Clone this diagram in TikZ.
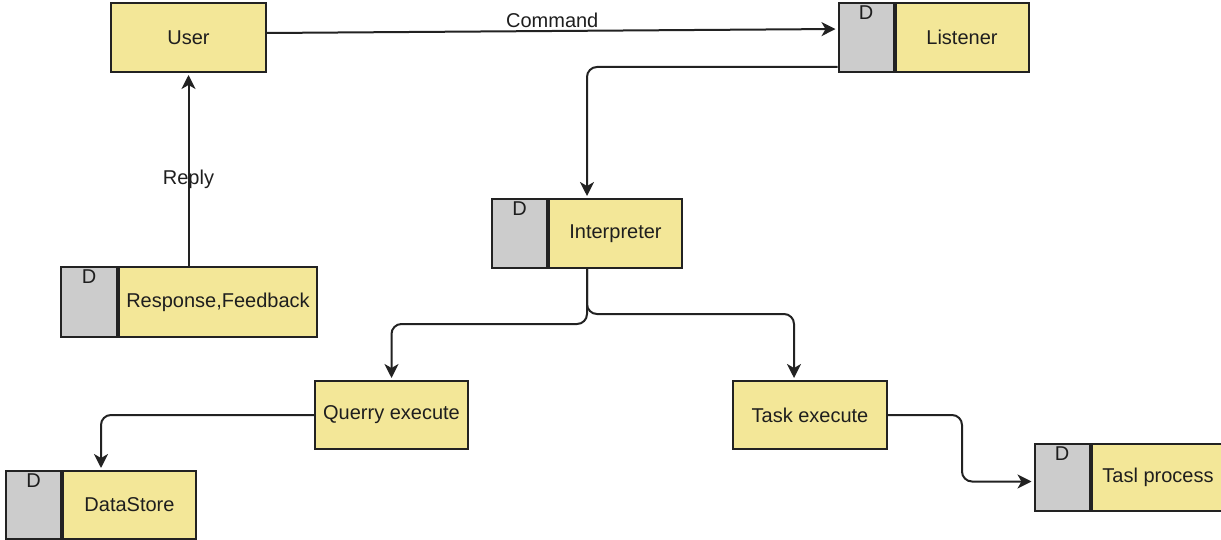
\documentclass[tikz,border=0pt]{standalone}
\usepackage{fontspec}
\setmainfont{Liberation Sans}
\usepackage{xcolor}
\usetikzlibrary{arrows, arrows.meta, positioning, calc}

\definecolor{boxyellow}{RGB}{243,231,152}
\definecolor{boxgray}{RGB}{204,204,204}
\definecolor{edgeline}{RGB}{34,34,34}
\definecolor{txt}{RGB}{30,30,30}

\tikzset{
  proc/.style={draw=edgeline, line width=2pt, fill=boxyellow, text=txt,
    minimum height=69pt, inner sep=0pt, font=\fontsize{20}{24}\selectfont},
  dpart/.style={proc, fill=boxgray, minimum width=55pt,
    label={[anchor=north, inner sep=4pt, text=txt, font=\fontsize{20}{24}\selectfont]north:D}},
  flow/.style={draw=edgeline, line width=2pt, rounded corners=10pt,
    -{Stealth[length=14pt, width=14pt, inset=4pt]}, shorten >=2pt},
}

\begin{document}
\begin{tikzpicture}[x=1pt, y=-1pt]
%\draw[step=50,gray,very thin] (0,0) grid (1221,540); %background grid
\useasboundingbox (0,0) rectangle (1221,540);

\node[proc, minimum width=155pt] (user) at (188.5,37.5) {User};

\node[dpart] (lisD) at (866,37.5) {};
\node[proc, minimum width=133pt, right=0pt of lisD] (lis) {Listener};

\node[dpart] (intD) at (519.5,233.5) {};
\node[proc, minimum width=133pt, right=0pt of intD] (int) {Interpreter};

\node[dpart, minimum width=56pt, minimum height=70pt] (resD) at (89,302) {};
\node[proc, minimum width=198pt, minimum height=70pt, right=0pt of resD] (res) {Response,Feedback};

\node[proc, minimum width=153pt, minimum height=68pt] (query) at (391.5,415) {Querry execute};
\node[proc, minimum width=154pt, minimum height=68pt] (task) at (810,415) {Task execute};

\node[dpart, minimum height=68pt] (dsD) at (33.5,505) {};
\node[proc, minimum width=133pt, minimum height=68pt, right=0pt of dsD] (ds) {DataStore};

\node[dpart, minimum height=67pt] (tslD) at (1062,477.5) {};
\node[proc, minimum width=133pt, minimum height=67pt, right=0pt of tslD] (tsl) {Tasl process};

\coordinate (intTop) at ($(intD.north west)!0.5!(int.north east)$);
\coordinate (intBot) at ($(intD.south west)!0.5!(int.south east)$);
\coordinate (dsTop) at ($(dsD.north west)!0.5!(ds.north east)$);

% connectors
\draw[flow] ([yshift=4.5pt]user.east) -- node[above, inner sep=2pt, text=txt, font=\fontsize{20}{24}\selectfont] {Command} ([yshift=8.5pt]lisD.west);
\draw[flow] ([yshift=-29.5pt]lisD.west) -| (intTop);
\draw[flow] (intBot) -- ++(0,55) -| (query.north);
\draw[flow] (intBot) -- ++(0,45) -| ([xshift=-16pt]task.north);
\draw[flow] (query.west) -| (dsTop);
\draw[flow] (task.east) -- ++(74,0) |- ([yshift=-4pt]tslD.west);
\draw[flow] (user.south |- resD.north) -- node[pos=0.45, text=txt, font=\fontsize{20}{24}\selectfont] {Reply} (user.south);

\end{tikzpicture}
\end{document}
